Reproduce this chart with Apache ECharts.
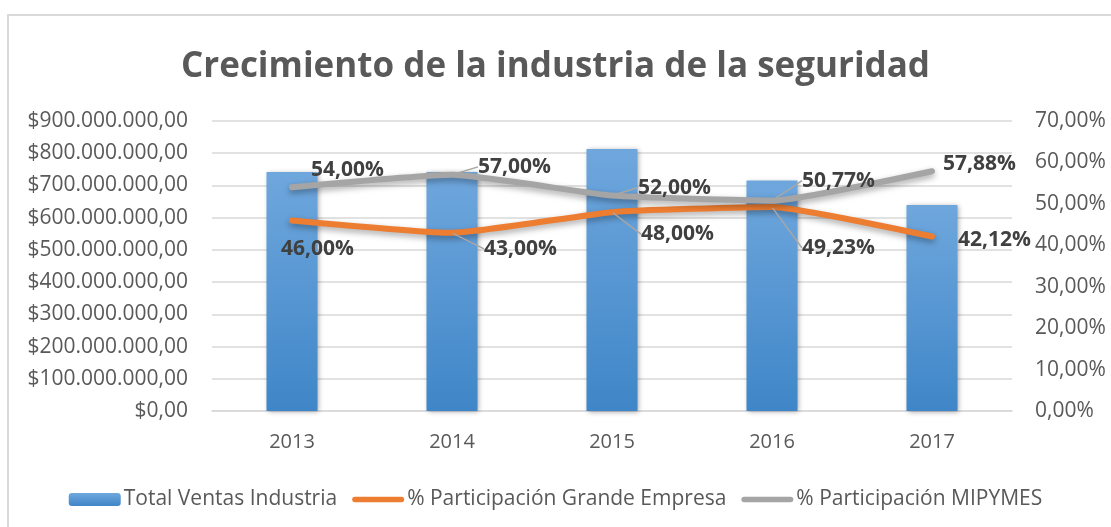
<!DOCTYPE html>
<html>
<head>
<meta charset="utf-8">
<script src="https://cdn.jsdelivr.net/npm/echarts@6/dist/echarts.min.js"></script>
<style>
  html, body { margin: 0; padding: 0; background: #fff; }
  #chart { width: 1111px; height: 527px; }
</style>
</head>
<body>
<div id="chart"></div>
<script>
var years = ['2013', '2014', '2015', '2016', '2017'];
var totalVentas = [742000000, 742000000, 813000000, 715000000, 639000000];
var grandeEmpresa = [46.00, 43.00, 48.00, 49.23, 42.12];
var mipymes = [54.00, 57.00, 52.00, 50.77, 57.88];
var seriesNames = ['Total Ventas Industria', '% Participación Grande Empresa', '% Participación MIPYMES'];

// label offsets (dx, dy) from the point, like the Excel chart
var grisOffsets = [[18, -17], [25, -8], [25, -8], [29, -20], [10, -7]];
var naranjaOffsets = [[-12, 29], [31, 16], [28, 22], [29, 41], [25, 4]];
var conLinea = [false, true, true, true, false];

function money(v) {
    var s = Math.round(v).toString().replace(/\B(?=(\d{3})+(?!\d))/g, '.');
    return '$' + s + ',00';
}
function pct(v) {
    return v.toFixed(2).replace('.', ',') + '%';
}

var font = '"Open Sans", "Noto Sans", sans-serif';
var lineIcon = 'path://M3,0 H53 A3,3 0 0 1 53,6 H3 A3,3 0 0 1 3,0 Z';

function lineData(values) {
    return values.map(function (v, i) {
        return { value: v, labelLine: { show: conLinea[i] } };
    });
}

var chart = echarts.init(document.getElementById('chart'));
chart.setOption({
    backgroundColor: '#fff',
    animation: false,
    textStyle: { fontFamily: font },
    graphic: [{
        type: 'rect',
        shape: { x: 8, y: 15, width: 1120, height: 530 },
        style: { fill: 'none', stroke: '#d9d9d9', lineWidth: 2 },
        silent: true
    }],
    title: {
        text: 'Crecimiento de la industria de la seguridad',
        left: 'center',
        top: 45,
        textStyle: { fontFamily: font, fontSize: 35, fontWeight: 'bold', color: '#595959' }
    },
    legend: {
        left: 'center',
        top: 484,
        itemWidth: 52,
        itemHeight: 13,
        itemGap: 15,
        textStyle: { fontFamily: font, fontSize: 21, color: '#595959', padding: [0, 0, 0, -2] },
        data: [
            { name: seriesNames[0] },
            { name: seriesNames[1], icon: lineIcon, itemStyle: { color: '#ed7d31' } },
            { name: seriesNames[2], icon: lineIcon, itemStyle: { color: '#a5a5a5' } }
        ]
    },
    grid: { left: 212, right: 99, top: 121, bottom: 116 },
    xAxis: {
        type: 'category',
        data: years,
        axisLine: { lineStyle: { color: '#d9d9d9', width: 1.5 } },
        axisTick: { show: false },
        axisLabel: { fontFamily: font, fontSize: 20, color: '#595959', margin: 21 }
    },
    yAxis: [{
        type: 'value',
        min: 0,
        max: 900000000,
        interval: 100000000,
        axisLine: { show: false },
        axisTick: { show: false },
        splitLine: { lineStyle: { color: '#d9d9d9', width: 1.5 } },
        axisLabel: { fontFamily: font, fontSize: 21, color: '#595959', margin: 24, formatter: money }
    }, {
        type: 'value',
        min: 0,
        max: 70,
        interval: 10,
        axisLine: { show: false },
        axisTick: { show: false },
        splitLine: { show: false },
        axisLabel: { fontFamily: font, fontSize: 21, color: '#595959', margin: 23, formatter: pct }
    }],
    series: [{
        name: seriesNames[0],
        type: 'bar',
        data: totalVentas,
        barWidth: 51,
        itemStyle: {
            color: new echarts.graphic.LinearGradient(0, 0, 0, 1, [
                { offset: 0, color: '#6fa7dd' },
                { offset: 1, color: '#3f86c8' }
            ]),
            shadowBlur: 5,
            shadowColor: 'rgba(0,0,0,0.35)',
            shadowOffsetX: 1,
            shadowOffsetY: 1
        }
    }, {
        name: seriesNames[1],
        type: 'line',
        yAxisIndex: 1,
        data: lineData(grandeEmpresa),
        smooth: 0.15,
        symbol: 'circle',
        symbolSize: 2,
        itemStyle: { color: 'transparent' },
        lineStyle: {
            color: '#ed7d31', width: 6, cap: 'round',
            shadowBlur: 6, shadowColor: 'rgba(0,0,0,0.35)', shadowOffsetY: 3
        },
        label: {
            show: true, position: 'right', distance: 0,
            fontFamily: font, fontSize: 21, fontWeight: 'bold', color: '#404040',
            formatter: function (p) { return pct(p.value); }
        },
        labelLine: { lineStyle: { color: '#a6a6a6', width: 1.5 } },
        labelLayout: function (p) {
            return { dx: naranjaOffsets[p.dataIndex][0], dy: naranjaOffsets[p.dataIndex][1] };
        }
    }, {
        name: seriesNames[2],
        type: 'line',
        yAxisIndex: 1,
        data: lineData(mipymes),
        smooth: 0.15,
        symbol: 'circle',
        symbolSize: 2,
        itemStyle: { color: 'transparent' },
        lineStyle: {
            color: '#a5a5a5', width: 6, cap: 'round',
            shadowBlur: 6, shadowColor: 'rgba(0,0,0,0.35)', shadowOffsetY: 3
        },
        label: {
            show: true, position: 'right', distance: 0,
            fontFamily: font, fontSize: 21, fontWeight: 'bold', color: '#404040',
            formatter: function (p) { return pct(p.value); }
        },
        labelLine: { lineStyle: { color: '#a6a6a6', width: 1.5 } },
        labelLayout: function (p) {
            return { dx: grisOffsets[p.dataIndex][0], dy: grisOffsets[p.dataIndex][1] };
        }
    }]
});
</script>
</body>
</html>
